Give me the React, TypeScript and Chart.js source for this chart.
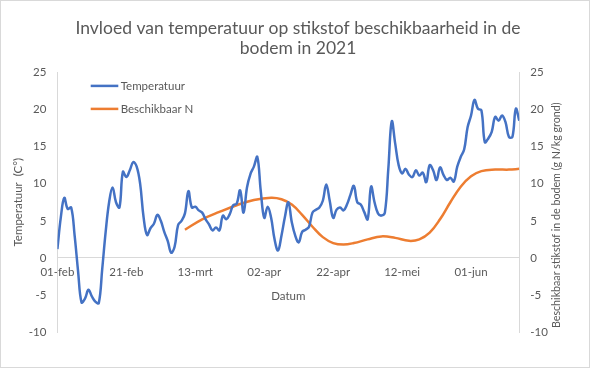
import React, { useEffect, useRef } from 'react';
import { Chart, registerables } from 'chart.js';

Chart.register(...registerables);

const TITLE = ['Invloed van temperatuur op stikstof beschikbaarheid in de', 'bodem in 2021'];
const X_TITLE = 'Datum';
const Y_TITLE = 'Temperatuur  (C°)';
const Y1_TITLE = 'Beschikbaar stikstof in de bodem (g N/kg grond)';
const SERIES_TEMP = 'Temperatuur';
const SERIES_N = 'Beschikbaar N';

// x = days since 01-feb
const TICK_LABELS = ['01-feb', '21-feb', '13-mrt', '02-apr', '22-apr', '12-mei', '01-jun'];
const TICK_STEP = 20;
const LAST_DAY = 134;

// daily temperature, day 0 .. 134
const TEMP = [
  1.2, 5.5, 8.1, 6.6, 6.8, 3.0, -1.8, -6.0, -5.5, -4.3,
  -5.2, -5.9, -6.1, -1.5, 3.5, 7.5, 9.5, 7.5, 6.8, 11.6,
  10.9, 11.8, 12.9, 12.3, 10.0, 5.5, 3.1, 4.0, 4.6, 5.8,
  5.0, 3.5, 2.3, 0.7, 1.5, 4.4, 5.0, 6.0, 9.0, 6.8,
  6.9, 6.4, 6.1, 5.2, 4.5, 3.7, 4.1, 3.7, 5.7, 5.2,
  5.9, 7.1, 7.3, 9.1, 6.1, 9.5, 11.3, 12.3, 13.6, 9.0,
  5.4, 6.9, 5.4, 2.5, 1.0, 3.0, 5.5, 7.5, 4.8, 3.0,
  2.1, 3.5, 3.8, 4.2, 6.1, 6.5, 6.8, 7.7, 9.9, 7.7,
  5.4, 6.5, 6.8, 6.4, 7.2, 8.5, 9.7, 7.5, 7.2, 6.2,
  5.2, 9.6, 7.5, 6.0, 5.7, 6.1, 12.0, 18.4, 15.4, 12.5,
  11.4, 12.0, 11.2, 10.9, 11.8, 11.1, 11.5, 10.2, 12.5, 11.8,
  10.5, 12.2, 11.2, 10.5, 10.8, 10.3, 12.3, 13.6, 14.6, 17.6,
  19.2, 21.3, 20.1, 19.9, 15.6, 16.1, 17.0, 19.0, 18.5, 19.2,
  18.3, 16.3, 16.3, 20.1, 18.5,
];

// available nitrogen (right axis)
const N_DAYS = [37, 42, 47, 52, 57, 62, 65, 68, 71, 74, 77, 80, 83, 86, 90, 94, 98, 102, 105, 108, 111, 114, 117, 120, 123, 127, 131, 134];
const N_VALUES = [3.8, 5.2, 6.2, 7.1, 7.8, 8.1, 7.9, 7.2, 5.8, 4.2, 2.8, 2.0, 1.8, 2.0, 2.5, 2.9, 2.7, 2.3, 2.5, 3.4, 5.2, 7.5, 9.6, 11.0, 11.7, 11.9, 11.9, 12.0];

const Y_MIN = -10;
const Y_MAX = 25;
const Y_STEP = 5;

const FONT = 'Lato, "Open Sans", sans-serif';
const TEXT = '#595959';
const AXIS = '#d9d9d9';
const BLUE = '#4472C4';
const ORANGE = '#ED7D31';

const overlayPlugin = {
  id: 'overlay',
  afterDraw(chart: any) {
    const { ctx, chartArea } = chart;
    ctx.save();
    ctx.font = `11.5px ${FONT}`;
    ctx.fillStyle = TEXT;
    ctx.textBaseline = 'middle';
    chart.data.datasets.forEach((ds: any, i: number) => {
      const y = chartArea.top + 13.5 + i * 23;
      const x0 = chartArea.left + 33.3;
      ctx.strokeStyle = ds.borderColor;
      ctx.lineWidth = 2.5;
      ctx.beginPath();
      ctx.moveTo(x0, y);
      ctx.lineTo(x0 + 27.6, y);
      ctx.stroke();
      ctx.textAlign = 'left';
      ctx.fillText(ds.label, x0 + 30, y);
    });
    ctx.font = `10.7px ${FONT}`;
    ctx.translate(chartArea.right + 37.7, (chartArea.top + chartArea.bottom) / 2 + 13);
    ctx.rotate(-Math.PI / 2);
    ctx.textAlign = 'center';
    ctx.fillText(Y1_TITLE, 0, 0);
    ctx.restore();
  },
};

export default function App() {
  const ref = useRef<HTMLCanvasElement | null>(null);

  useEffect(() => {
    document.body.style.margin = '0';
    const canvas = ref.current;
    if (!canvas) return;
    const tickFont = { family: FONT, size: 11.5 };
    const chart = new Chart(canvas, {
      type: 'line',
      data: {
        datasets: [
          {
            label: SERIES_TEMP,
            data: TEMP.map((v, i) => ({ x: i, y: v })),
            borderColor: BLUE,
            backgroundColor: BLUE,
            borderWidth: 2.5,
            pointRadius: 0,
            tension: 0.4,
            yAxisID: 'y',
          },
          {
            label: SERIES_N,
            data: N_DAYS.map((d, i) => ({ x: d, y: N_VALUES[i] })),
            borderColor: ORANGE,
            backgroundColor: ORANGE,
            borderWidth: 2.5,
            pointRadius: 0,
            tension: 0.4,
            yAxisID: 'y1',
          },
        ],
      },
      options: {
        responsive: false,
        animation: false,
        events: [],
        layout: { padding: { left: 6, right: 0, top: 0, bottom: 0 } },
        plugins: {
          legend: { display: false },
          tooltip: { enabled: false },
          title: {
            display: true,
            text: TITLE,
            color: TEXT,
            font: { family: FONT, size: 17.5, weight: 'normal', lineHeight: 1.18 },
            padding: { top: 16.6, bottom: 13.5 },
          },
        },
        scales: {
          x: {
            type: 'linear',
            min: 0,
            max: LAST_DAY,
            position: { y: 0 },
            grid: { display: false, drawTicks: false },
            border: { display: true, color: AXIS, width: 1 },
            ticks: {
              stepSize: TICK_STEP,
              includeBounds: false,
              autoSkip: false,
              maxRotation: 0,
              padding: 7,
              color: TEXT,
              font: tickFont,
              callback: (v: any) => TICK_LABELS[Math.round(Number(v) / TICK_STEP)] ?? '',
            },
            title: {
              display: true,
              text: X_TITLE,
              color: TEXT,
              font: { family: FONT, size: 11.5 },
              padding: { top: 4, bottom: 4 },
            },
          },
          y: {
            position: 'left',
            min: Y_MIN,
            max: Y_MAX,
            grid: { display: false, drawTicks: false },
            border: { display: true, color: AXIS, width: 1 },
            ticks: { stepSize: Y_STEP, padding: 11, color: TEXT, font: tickFont },
            title: {
              display: true,
              text: Y_TITLE,
              color: TEXT,
              font: { family: FONT, size: 11.5 },
              padding: { top: 4, bottom: 4 },
            },
            afterFit: (s: any) => {
              s.width = 50.4;
            },
          },
          y1: {
            position: 'right',
            min: Y_MIN,
            max: Y_MAX,
            grid: { display: false, drawTicks: false },
            border: { display: true, color: AXIS, width: 1 },
            ticks: { stepSize: Y_STEP, padding: 11, color: TEXT, font: tickFont },
            afterFit: (s: any) => {
              s.width = 69.7;
            },
          },
        },
      } as any,
      plugins: [overlayPlugin],
    });
    return () => chart.destroy();
  }, []);

  return (
    <div
      style={{
        position: 'fixed',
        left: 0,
        top: 0,
        width: 590,
        height: 368,
        boxSizing: 'border-box',
        border: '1px solid #d9d9d9',
        overflow: 'hidden',
        background: '#fff',
      }}
    >
      <canvas ref={ref} width={588} height={349} style={{ display: 'block' }} />
    </div>
  );
}
